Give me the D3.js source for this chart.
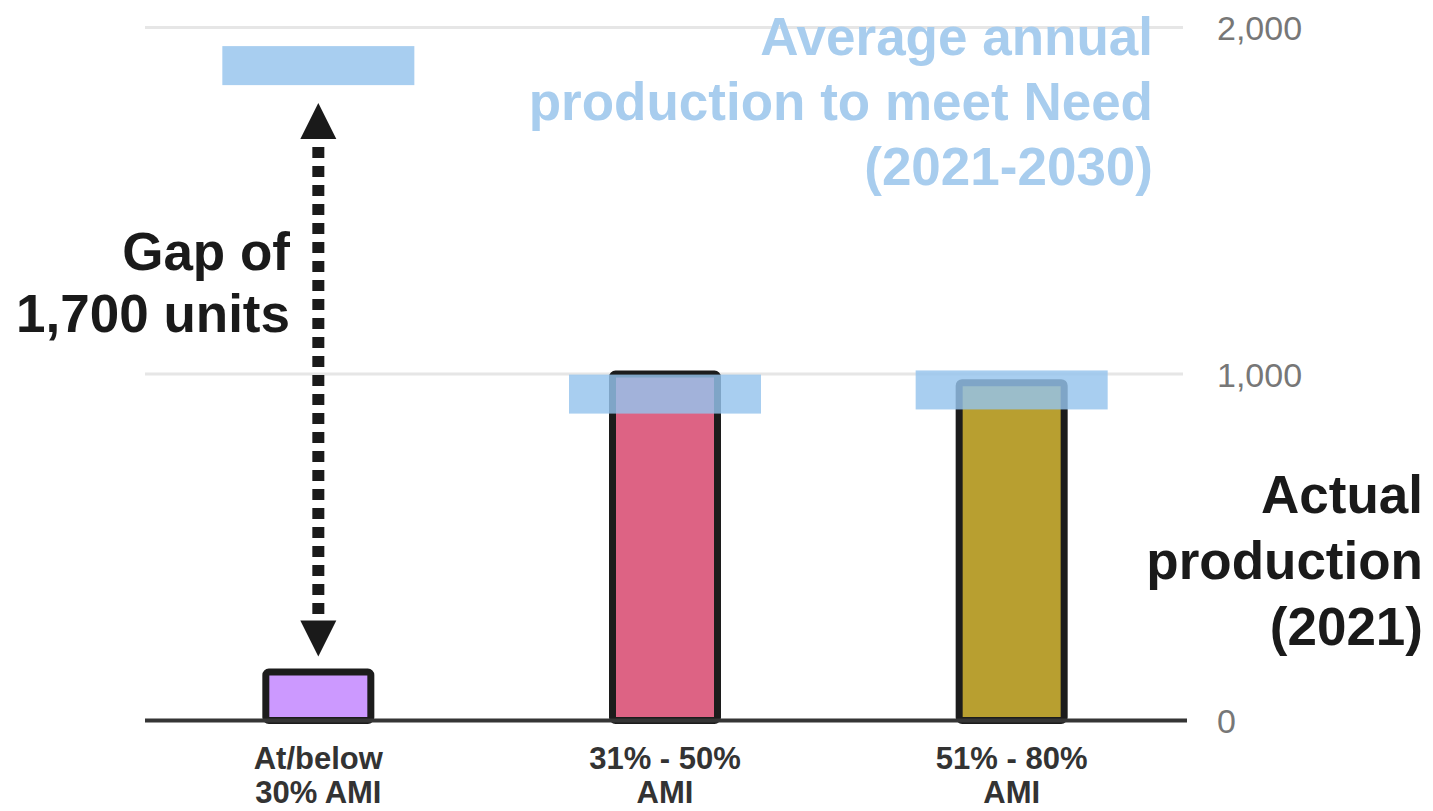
<!DOCTYPE html>
<html><head><meta charset="utf-8">
<script src="https://cdn.jsdelivr.net/npm/d3@7"></script>
<style>body{margin:0;background:#fff}svg{display:block}</style>
</head><body>
<svg id="chart" width="1433" height="811"></svg>
<script>
// ---- data ----
const categories = ["At/below 30% AMI", "31% - 50% AMI", "51% - 80% AMI"];
const categoryLines = [["At/below", "30% AMI"], ["31% - 50%", "AMI"], ["51% - 80%", "AMI"]];
const actualProduction = [140, 1000, 975];
const neededProduction = [1890, 942, 954];
const yTicks = [0, 1000, 2000];
const barColors = ["#cc99ff", "#dd6384", "#b89f30"];
const gapLabel = ["Gap of", "1,700 units"];
const needLabel = ["Average annual", "production to meet Need", "(2021-2030)"];
const actualLabel = ["Actual", "production", "(2021)"];

// ---- layout ----
const FONT = "'Liberation Sans', Arial, sans-serif";
const svg = d3.select("#chart");
const x = d3.scaleBand().domain(categories).range([145, 1185]).padding(0);
const y = d3.scaleLinear().domain([0, 2000]).range([720.5, 27.5]);
const cx = d => x(d) + x.bandwidth() / 2;
const barW = 105, needW = 192, needH = 39;

// gridlines
svg.append("g").selectAll("line").data(yTicks.filter(t => t > 0)).join("line")
  .attr("x1", 145).attr("x2", 1183)
  .attr("y1", d => y(d)).attr("y2", d => y(d))
  .attr("stroke", "#e6e6e6").attr("stroke-width", 3);

// y axis on the right
const yAxis = d3.axisRight(y).tickValues(yTicks).tickSize(0).tickPadding(32)
  .tickFormat(d3.format(","));
const ya = svg.append("g").attr("transform", "translate(1185,0)").call(yAxis);
ya.select(".domain").remove();
ya.selectAll("text").attr("font-family", FONT).attr("font-size", 34)
  .attr("fill", "#777").attr("dy", "0.36em");

// bars
svg.append("g").selectAll("rect").data(categories).join("rect")
  .attr("x", d => cx(d) - barW / 2)
  .attr("y", (d, i) => y(actualProduction[i]))
  .attr("width", barW)
  .attr("height", (d, i) => y(0) - y(actualProduction[i]))
  .attr("rx", 3)
  .attr("fill", (d, i) => barColors[i])
  .attr("stroke", "#1c1c1c").attr("stroke-width", 7);

// zero axis line
svg.append("line").attr("x1", 145).attr("x2", 1187)
  .attr("y1", y(0)).attr("y2", y(0))
  .attr("stroke", "#353535").attr("stroke-width", 4);

// need markers
svg.append("g").selectAll("rect").data(categories).join("rect")
  .attr("x", d => cx(d) - needW / 2)
  .attr("y", (d, i) => y(neededProduction[i]) - needH / 2)
  .attr("width", needW).attr("height", needH)
  .attr("fill", "#95c3ed").attr("opacity", 0.82);

// gap arrow
const ax = cx(categories[0]);
const topTip = y(neededProduction[0]) + needH / 2 + 18;
const botTip = y(actualProduction[0]) - 3.5 - 12;
const headL = 36, headW = 36;
const arrow = svg.append("g").attr("fill", "#1a1a1a");
arrow.append("line").attr("x1", ax).attr("x2", ax)
  .attr("y1", topTip + headL + 8).attr("y2", botTip - headL - 2)
  .attr("stroke", "#1a1a1a").attr("stroke-width", 12)
  .attr("stroke-dasharray", "11,8");
arrow.append("path").attr("d", `M${ax},${topTip}L${ax + headW / 2},${topTip + headL}L${ax - headW / 2},${topTip + headL}Z`);
arrow.append("path").attr("d", `M${ax},${botTip}L${ax + headW / 2},${botTip - headL}L${ax - headW / 2},${botTip - headL}Z`);

// category labels
const cl = svg.append("g").attr("font-family", FONT).attr("font-size", 31)
  .attr("font-weight", "bold").attr("fill", "#333").attr("text-anchor", "middle");
categories.forEach((c, i) => {
  categoryLines[i].forEach((t, j) => {
    cl.append("text").attr("x", cx(c)).attr("y", 769 + j * 34).text(t);
  });
});

// annotations
function block(lines, xEnd, y0, lh, color) {
  const g = svg.append("g").attr("font-family", FONT).attr("font-size", 53)
    .attr("font-weight", "bold").attr("fill", color).attr("text-anchor", "end");
  lines.forEach((t, j) => g.append("text").attr("x", xEnd).attr("y", y0 + j * lh).text(t));
}
block(gapLabel, 290, 270, 62, "#1a1a1a");
block(needLabel, 1153, 55, 65, "#a8cdee");
block(actualLabel, 1423, 513, 66, "#1a1a1a");
</script>
</body></html>
